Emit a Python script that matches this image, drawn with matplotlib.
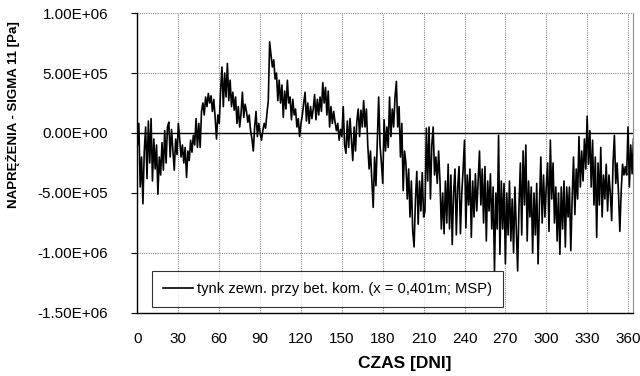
import numpy as np
from matplotlib import pyplot as plt, ticker

plt.rcParams['font.family'] = ['Liberation Sans', 'DejaVu Sans']

# stress values, one per day, in units of 1e5 Pa
sigma = [
    -1.0, 0.8, -4.5, -2.0, -5.9, -1.5, 0.5, -3.8, 1.0, -2.5,
    1.2, -4.0, -0.5, -3.0, -1.0, -5.1, -2.0, -3.5, -0.8, -3.1,
    0.2, -2.5, 0.5, 0.9, -2.0, 0.3, -1.5, -3.1, -0.5, -1.8,
    0.8, -0.5, -2.0, -1.0, -2.5, -1.2, -3.7, -1.5, -2.3, -0.6,
    -1.6, -0.2, -1.0, 1.2, -1.2, 0.8, -1.2, 1.8, 2.5, 1.5,
    3.0, 2.2, 3.3, 2.5, 3.1, 1.8, 2.8, 1.3, -0.5, 1.5,
    0.8, 3.5, 5.5, 2.2, 5.0, 3.0, 5.8, 2.7, 4.4, 2.2,
    3.4, 1.9, 3.0, 0.8, 2.2, 0.5, 1.6, 3.4, 1.3, 2.4,
    1.8, 0.9, 1.5, 0.2, -0.5, -1.5, 0.5, 1.8, -0.3, 0.8,
    0.0, -0.6, 0.2, 0.8, 0.4, 1.6, 2.7, 7.6, 6.5, 5.5,
    6.1, 4.5, 5.0, 2.7, 4.4, 2.5, 4.0, 1.3, 3.5, 2.0,
    4.4, 2.5, 3.0, 1.1, 2.8, 1.5, 2.0, 0.5, 1.2, -0.3,
    0.8, 1.5, 2.5, 3.4, 1.0, 2.5, 0.8, 2.2, 1.2, 2.0,
    3.2, 1.1, 2.8, 1.5, 3.0, 1.8, 4.2, 2.5, 3.8, 1.5,
    3.5, 0.5, 2.2, 0.8, 1.8, 0.9, 0.2, 0.8, -0.6, 0.3,
    -0.3, 2.2, -1.0, -1.7, 1.0, -1.2, 1.2, -0.5, -2.3, 0.5,
    -1.5, 1.0, 2.0, -0.3, 1.9, 0.5, 2.7, 0.5, 2.0, -1.0,
    -3.0, -1.5, -4.0, -6.2, -2.0, -4.4, -0.8, 3.0, -1.0, -2.5,
    -4.2, 1.1, -1.5, 0.5, -1.2, 3.0, -0.3, 2.0, 0.5, 3.0,
    4.3, 0.5, 2.2, -2.0, 0.8, -4.8, -1.5, -2.5, -5.5, -3.0,
    -7.0, -4.0, -8.2, -9.5, -5.5, -3.2, -7.6, -4.0, -6.5, -3.3,
    -7.0, -6.5, 0.4, -4.0, 0.5, -5.5, -1.0, 0.5, -3.5, -2.0,
    -4.2, -1.5, -4.0, -8.0, -5.0, -8.4, -4.0, -7.5, -2.6, -8.0,
    -3.5, -9.3, -5.0, -3.0, -8.5, -4.5, -2.8, -8.4, -5.0, -3.0,
    -0.6, -7.9, -3.5, -6.0, -3.0, -8.7, -4.0, -7.0, -3.4, -6.5,
    -4.0, -1.5, -6.0, -3.0, -7.5, -2.8, -9.0, -4.0, -6.5, -3.4,
    -8.0, -4.5, -11.5, -5.0, -8.0, -0.2, -10.1, -4.0, -8.0, -4.2,
    -10.9, -5.0, -8.5, -4.0, -9.0, -5.5, -10.0, -4.5, -8.0, -11.5,
    -6.0, -2.5, -8.5, -1.5, -6.0, -1.0, -9.0, -4.0, -7.0, -4.5,
    -10.0, -5.0, -8.5, -4.2, -10.9, -6.0, -2.0, -7.5, -3.5, -7.0,
    -4.5, -2.5, -8.2, -0.6, -5.5, -2.5, -7.5, -4.5, -9.0, -5.0,
    -10.1, -4.5, -8.0, -4.0, -9.5, -4.5, -7.0, -4.5, -9.8, -5.5,
    -2.0, -6.8, -3.0, -5.5, -0.3, -4.5, -1.5, -4.0, -0.5, -3.0,
    1.4, -2.6, 0.2, -4.5, -0.6, -6.0, -2.0, -8.7, -2.5, -6.0,
    -1.2, -7.0, -3.5, -5.5, -2.6, -6.5, -3.5, -5.0, -7.3, -2.5,
    -0.2, -4.2, -2.5, -5.0, -8.2, -4.8, -2.6, -3.5, -2.8, -3.5,
    0.5, -4.5, -1.0, -3.4, -0.5,
]
days = np.arange(len(sigma))
x_ticks = list(range(0, 361, 30))
y_ticks = [-1.5e6, -1.0e6, -5e5, 0, 5e5, 1.0e6]
series_label = 'tynk zewn. przy bet. kom. (x = 0,401m; MSP)'

fig = plt.figure(figsize=(6.4, 3.76), dpi=100)
ax = fig.add_axes([0.2148, 0.1676, 0.7750, 0.7978])

ax.plot(days, np.array(sigma) * 1e5, color='black', lw=1.2, label=series_label)

ax.set_xlim(0, 364)
ax.set_ylim(-1.5e6, 1.0e6)
ax.set_xticks(x_ticks)
ax.set_yticks(y_ticks)
ax.yaxis.set_major_formatter(ticker.FuncFormatter(lambda v, p: f'{v:.2E}'))
ax.tick_params(axis='y', labelsize=11, direction='out', length=4, width=0.8,
               color='black', pad=17)
ax.tick_params(axis='x', labelsize=11, length=0, pad=14)

ax.grid(True, color='#8c8c8c', lw=0.8, ls=(0, (1, 1)))
ax.axhline(0, color='black', lw=1.0, zorder=1.5)
ax.set_axisbelow(True)

ax.spines['top'].set_visible(False)
ax.spines['right'].set_color('#8c8c8c')
ax.spines['left'].set_linewidth(1.0)
ax.spines['bottom'].set_linewidth(1.0)

ax.set_xlabel('CZAS [DNI]', fontsize=12.5, fontweight='bold', va='top')
ax.xaxis.set_label_coords(0.539, -0.145)
ax.set_ylabel('NAPRĘŻENIA - SIGMA 11 [Pa]', fontsize=9.5, fontweight='bold')
ax.yaxis.set_label_coords(-0.236, 0.66)

leg = ax.legend(loc='lower left', bbox_to_anchor=(0.03, 0.019), fontsize=10.6,
                frameon=True, fancybox=False, handlelength=2.0, handletextpad=0.3,
                borderpad=0.75, borderaxespad=0)
leg.get_frame().set_edgecolor('black')
leg.get_frame().set_linewidth(0.8)

fig.savefig('out.png', dpi=100)
